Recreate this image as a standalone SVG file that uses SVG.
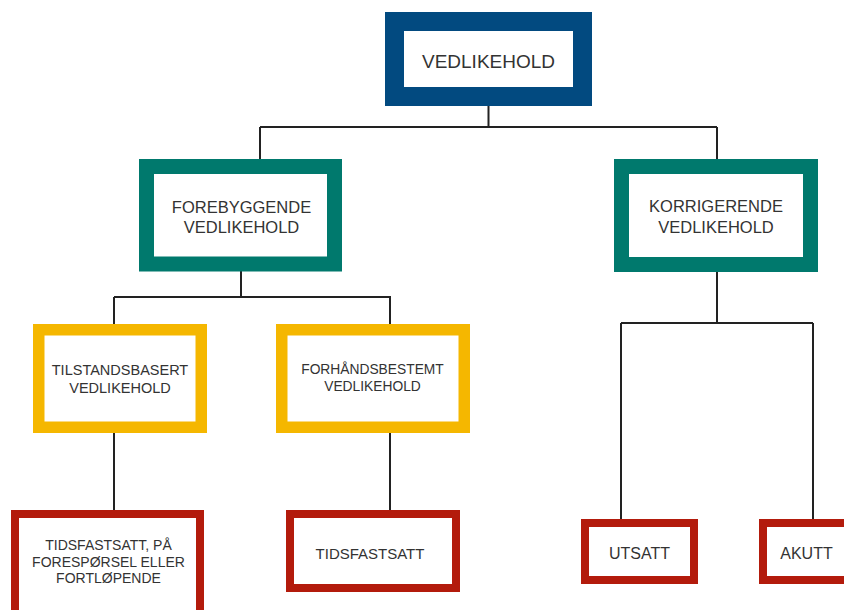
<svg xmlns="http://www.w3.org/2000/svg" width="844" height="610" viewBox="0 0 844 610">
<style>
.b{fill:#fff}
.blue{stroke:#024a80;stroke-width:19}
.teal{stroke:#00796d;stroke-width:15}
.yel{stroke:#f5b700;stroke-width:11.5}
.red{stroke:#b31b0c;stroke-width:8}
text{font-family:"Liberation Sans",Arial,sans-serif;fill:#333;text-anchor:middle}
.c path{fill:none;stroke:#222;stroke-width:2}
</style>
<rect width="844" height="610" fill="#fff"/>
<g class="c" id="connectors">
<path d="M488.5 106V127M260 127H717M260 127V159M717 127V159"/>
<path d="M241 271V297M114 297H391M114 297V324M390 297V324"/>
<path d="M717 272V323M621 323H813M621 323V519M813 323V519"/>
<path d="M114 433V510M390 433V510"/>
</g>
<g id="vedlikehold">
<rect class="b blue" x="394.5" y="21.5" width="188" height="75"/>
<text x="488.5" y="68" font-size="19">VEDLIKEHOLD</text>
</g>
<g id="forebyggende">
<rect class="b teal" x="146.5" y="166.5" width="188" height="97.5"/>
<text x="241.5" y="213" font-size="16.5">FOREBYGGENDE</text>
<text x="241.5" y="233" font-size="16.5">VEDLIKEHOLD</text>
</g>
<g id="korrigerende">
<rect class="b teal" x="621.5" y="166.5" width="189" height="98"/>
<text x="716" y="212" font-size="16.5">KORRIGERENDE</text>
<text x="716" y="233" font-size="16.5">VEDLIKEHOLD</text>
</g>
<g id="tilstandsbasert">
<rect class="b yel" x="38.75" y="329.75" width="162.5" height="97.5"/>
<text x="120" y="375" font-size="14.5">TILSTANDSBASERT</text>
<text x="120" y="393" font-size="14.5">VEDLIKEHOLD</text>
</g>
<g id="forhandsbestemt">
<rect class="b yel" x="281.75" y="329.75" width="182.5" height="97.5"/>
<text x="372.5" y="374" font-size="13.8">FORHÅNDSBESTEMT</text>
<text x="372.5" y="391" font-size="13.8">VEDLIKEHOLD</text>
</g>
<g id="tidsfastsatt-paa">
<rect class="b red" x="15" y="514" width="185" height="110"/>
<text x="108.5" y="550" font-size="14">TIDSFASTSATT, PÅ</text>
<text x="108.5" y="567" font-size="14">FORESPØRSEL ELLER</text>
<text x="108.5" y="583" font-size="14">FORTLØPENDE</text>
</g>
<g id="tidsfastsatt">
<rect class="b red" x="290" y="514" width="166" height="74"/>
<text x="370" y="559" font-size="15">TIDSFASTSATT</text>
</g>
<g id="utsatt">
<rect class="b red" x="585" y="523" width="109" height="57"/>
<text x="639.5" y="559" font-size="16">UTSATT</text>
</g>
<g id="akutt">
<rect class="b red" x="763" y="523" width="109" height="57"/>
<text x="806.5" y="559" font-size="16">AKUTT</text>
</g>
</svg>
